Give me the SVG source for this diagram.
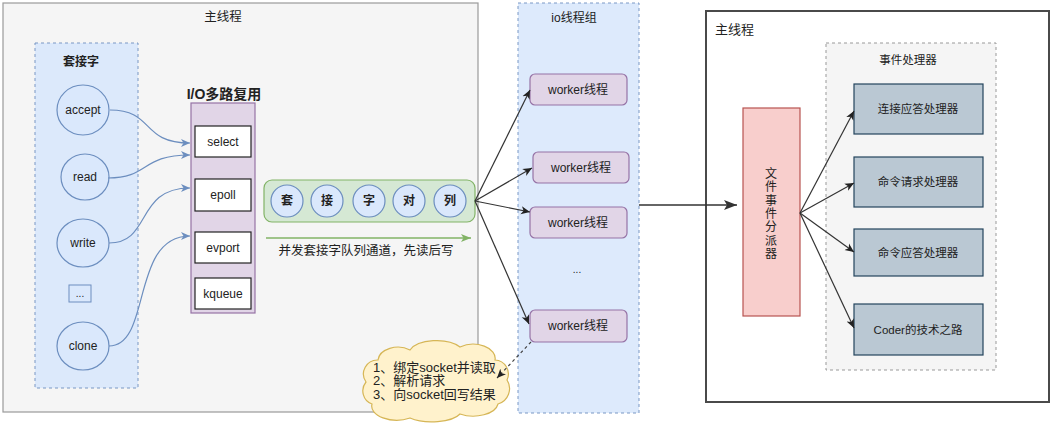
<svg xmlns="http://www.w3.org/2000/svg" width="1052" height="424" viewBox="0 0 1052 424">
<style>
text{font-family:"Liberation Sans","Noto Sans CJK SC",sans-serif;fill:#222;}
.c{text-anchor:middle;}
.t12{font-size:12px;}
.b{font-weight:bold;}
.ell{fill:#dae8fc;stroke:#6c8ebf;stroke-width:1.2;}
.iobox{fill:#ffffff;stroke:#222;stroke-width:1.2;}
.worker{fill:#e1d5e7;stroke:#9673a6;stroke-width:1.2;}
.handler{fill:#bac8d3;stroke:#23445d;stroke-width:1.2;}
.blue{fill:none;stroke:#6c8ebf;stroke-width:1.2;marker-end:url(#ab);}
.blk{fill:none;stroke:#333;stroke-width:1.2;marker-end:url(#ak);}
</style>
<defs>
<marker id="ab" markerWidth="10" markerHeight="10" refX="9" refY="5" orient="auto" markerUnits="userSpaceOnUse">
<path d="M0,1 L9,5 L0,9 L2.5,5 Z" fill="#6c8ebf"/>
</marker>
<marker id="ak" markerWidth="10" markerHeight="10" refX="9" refY="5" orient="auto" markerUnits="userSpaceOnUse">
<path d="M0,1 L9,5 L0,9 L2.5,5 Z" fill="#222"/>
</marker>
<marker id="ag" markerWidth="12" markerHeight="10" refX="10" refY="5" orient="auto" markerUnits="userSpaceOnUse">
<path d="M0,1 L10,5 L0,9 L2.5,5 Z" fill="#82b366"/>
</marker>
<marker id="ak2" markerWidth="14" markerHeight="12" refX="13" refY="6" orient="auto" markerUnits="userSpaceOnUse">
<path d="M0,1 L13,6 L0,11 L3,6 Z" fill="#333"/>
</marker>
</defs>

<g id="main-thread-left">
<rect x="3" y="3" width="475" height="409" fill="#f5f5f5" stroke="#9a9a9a" stroke-width="1.2"/>
<text x="223" y="21" class="c" font-size="12.5">主线程</text>
</g>

<g id="socket-group">
<rect x="35" y="43" width="103" height="345" fill="#dae8fc" stroke="#6c8ebf" stroke-width="1" stroke-dasharray="3,3" opacity="0.9"/>
<text x="81" y="66" class="c t12 b">套接字</text>
</g>
<g id="accept"><ellipse cx="83" cy="110" rx="26" ry="25" class="ell"/><text x="83" y="114" class="c t12">accept</text></g>
<g id="read"><ellipse cx="85" cy="177" rx="24" ry="23" class="ell"/><text x="85" y="181" class="c t12">read</text></g>
<g id="write"><ellipse cx="83" cy="243" rx="26" ry="24" class="ell"/><text x="83" y="247" class="c t12">write</text></g>
<g id="more"><rect x="69" y="285" width="22" height="17" fill="#dae8fc" stroke="#6c8ebf" stroke-width="1"/><text x="80" y="297" class="c" font-size="10">...</text></g>
<g id="clone"><ellipse cx="83" cy="346" rx="26" ry="24" class="ell"/><text x="83" y="350" class="c t12">clone</text></g>

<g id="io-multiplex">
<text x="224" y="99" class="c b" font-size="14">I/O多路复用</text>
<rect x="191" y="103" width="64" height="210" fill="#e1d5e7" stroke="#9673a6" stroke-width="1.2"/>
</g>
<g id="select"><rect x="195" y="126" width="56" height="31" class="iobox"/><text x="223" y="146" class="c t12">select</text></g>
<g id="epoll"><rect x="195" y="179" width="56" height="32" class="iobox"/><text x="223" y="199" class="c t12">epoll</text></g>
<g id="evport"><rect x="195" y="232" width="56" height="31" class="iobox"/><text x="223" y="252" class="c t12">evport</text></g>
<g id="kqueue"><rect x="195" y="278" width="56" height="31" class="iobox"/><text x="223" y="298" class="c t12">kqueue</text></g>

<g id="socket-queue">
<rect x="264" y="180" width="211" height="42" rx="8" fill="#d5e8d4" stroke="#82b366" stroke-width="1.2"/>
<circle cx="287" cy="201" r="16" class="ell"/><text x="287" y="205" class="c t12 b">套</text>
<circle cx="327" cy="201" r="16" class="ell"/><text x="327" y="205" class="c t12 b">接</text>
<circle cx="369" cy="201" r="16" class="ell"/><text x="369" y="205" class="c t12 b">字</text>
<circle cx="409" cy="201" r="16" class="ell"/><text x="409" y="205" class="c t12 b">对</text>
<circle cx="450" cy="201" r="16" class="ell"/><text x="450" y="205" class="c t12 b">列</text>
</g>
<g id="queue-label">
<line x1="266" y1="238" x2="471" y2="238" stroke="#82b366" stroke-width="1.5" marker-end="url(#ag)"/>
<text x="366" y="255" class="c" font-size="12.5">并发套接字队列通道，先读后写</text>
</g>

<g id="io-thread-group">
<rect x="518" y="3" width="121" height="410" fill="#dae8fc" stroke="#6c8ebf" stroke-width="1" stroke-dasharray="3,3" opacity="0.9"/>
<text x="574" y="22" class="c t12">io线程组</text>
<text x="577" y="273" class="c" font-size="10">...</text>
</g>
<g id="worker1"><rect x="530" y="74" width="97" height="31" rx="5" class="worker"/><text x="578" y="94" class="c t12">worker线程</text></g>
<g id="worker2"><rect x="533" y="152" width="96" height="31" rx="5" class="worker"/><text x="581" y="172" class="c t12">worker线程</text></g>
<g id="worker3"><rect x="530" y="207" width="97" height="31" rx="5" class="worker"/><text x="578" y="227" class="c t12">worker线程</text></g>
<g id="worker4"><rect x="530" y="310" width="97" height="32" rx="5" class="worker"/><text x="578" y="330" class="c t12">worker线程</text></g>

<g id="worker-steps">
<path d="M378,360 A20,14 0 0 1 410,350 A28,14 0 0 1 460,347 A22,14 0 0 1 495,360 A14,14 0 0 1 507,380 A16,16 0 0 1 498,404 A25,14 0 0 1 460,414 A30,12 0 0 1 410,418 A25,14 0 0 1 372,404 A14,14 0 0 1 366,382 A14,14 0 0 1 378,360 Z" fill="#fff2cc" stroke="#d6b656" stroke-width="1.2"/>
<text x="373" y="372" font-size="13">1、绑定socket并读取</text>
<text x="373" y="385" font-size="13">2、解析请求</text>
<text x="373" y="399" font-size="13">3、向socket回写结果</text>
</g>

<g id="main-thread-right">
<rect x="706" y="11" width="343" height="391" fill="#ffffff" stroke="#4a4a4a" stroke-width="2"/>
<text x="715" y="34" font-size="13">主线程</text>
</g>
<g id="event-handlers">
<rect x="826" y="43" width="170" height="327" fill="#f5f5f5" stroke="#999" stroke-width="1" stroke-dasharray="3,3"/>
<text x="908" y="64" class="c" font-size="11.5">事件处理器</text>
</g>
<g id="dispatcher">
<rect x="743" y="108" width="57" height="208" fill="#f8cecc" stroke="#b85450" stroke-width="1.2"/>
<text x="771" y="178" class="c t12"><tspan x="771">文</tspan><tspan x="771" dy="13.3">件</tspan><tspan x="771" dy="13.3">事</tspan><tspan x="771" dy="13.3">件</tspan><tspan x="771" dy="13.3">分</tspan><tspan x="771" dy="13.3">派</tspan><tspan x="771" dy="13.3">器</tspan></text>
</g>
<g id="h1"><rect x="854" y="84" width="129" height="50" class="handler"/><text x="918" y="113" class="c" font-size="11.5">连接应答处理器</text></g>
<g id="h2"><rect x="854" y="157" width="129" height="50" class="handler"/><text x="918" y="186" class="c" font-size="11.5">命令请求处理器</text></g>
<g id="h3"><rect x="854" y="229" width="129" height="47" class="handler"/><text x="918" y="257" class="c" font-size="11.5">命令应答处理器</text></g>
<g id="h4"><rect x="854" y="304" width="129" height="51" class="handler"/><text x="918" y="334" class="c" font-size="11.5">Coder的技术之路</text></g>

<g id="connectors">
<path d="M110,110 C155,110 140,143 190,143" class="blue"/>
<path d="M108,178 C150,178 140,155 190,155" class="blue"/>
<path d="M109,243 C152,243 135,188 190,188" class="blue"/>
<path d="M109,346 C152,346 130,236 190,236" class="blue"/>
<line x1="475" y1="201" x2="530" y2="90" class="blk"/>
<line x1="475" y1="201" x2="532" y2="168" class="blk"/>
<line x1="475" y1="201" x2="530" y2="212" class="blk"/>
<line x1="475" y1="201" x2="529" y2="324" class="blk"/>
<line x1="531" y1="342" x2="497" y2="378" stroke="#444" stroke-width="1.2" stroke-dasharray="3,3" marker-end="url(#ak)"/>
<line x1="639" y1="205" x2="737" y2="205" stroke="#333" stroke-width="1.5" marker-end="url(#ak2)"/>
<line x1="800" y1="213" x2="854" y2="111" class="blk"/>
<line x1="800" y1="213" x2="854" y2="183" class="blk"/>
<line x1="800" y1="213" x2="854" y2="252" class="blk"/>
<line x1="800" y1="213" x2="854" y2="328" class="blk"/>
</g>
</svg>
